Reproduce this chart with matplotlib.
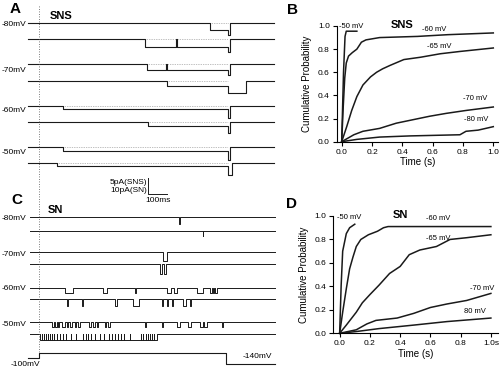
import numpy as np
import matplotlib
matplotlib.use('Agg')
import matplotlib.pyplot as plt

plt.rcParams['font.family'] = ['Liberation Sans', 'DejaVu Sans']

# ---------------- data ----------------
# A: SNS single channel records (times in ms from step onset, currents in pA, inward = positive amp)
a_volt_labels = ['-80mV', '-70mV', '-60mV', '-50mV']
a_open_t = [905, 561, 571, 677, 127, 577, 127, 95]
a_open_pA = [2.2, 2.3, 1.9, 1.65, 0.95, 1.35, 1.25, 0.85]
a_tail_pA = [3.7, 4.0, 3.4, 3.8, 3.75, 3.5, 4.2, 3.65]
a_tail_ms = [10, 8, 8, 95, 8, 8, 8, 20]
a_closures = [[], [725], [672], [], [], [], [], []]

# C: SN single channel records, openings (start ms, end ms)
c_volt_labels = ['-80mV', '-70mV', '-60mV', '-50mV']
c_amp_pA = [4.4, 3.1, 5.6, 6.2, 3.6, 4.8, 3.1, 3.7]
c_openings = [
    [(739, 744)],
    [(866, 870)],
    [(656, 675)],
    [(640, 650), (660, 672)],
    [(138, 180), (339, 360), (508, 513), (677, 700), (712, 730), (836, 868),
     (905, 915), (920, 928), (932, 942)],
    [(148, 153), (227, 232), (402, 413), (497, 529), (651, 656), (677, 682),
     (704, 709), (762, 778), (799, 804)],
    [(69, 77), (85, 93), (101, 108), (122, 138), (148, 156), (164, 175), (190, 198),
     (206, 217), (265, 275), (286, 296), (307, 312), (349, 357), (365, 376),
     (561, 566), (651, 656), (730, 746), (788, 804), (852, 868), (873, 889), (968, 973)],
    [],
]
c8_burst = (5, 624)
c8_closures = [16, 26, 37, 48, 58, 69, 79, 95, 111, 127, 143, 169, 196, 233, 249, 259,
               275, 296, 323, 344, 370, 386, 402, 418, 434, 450, 481, 540, 550, 566,
               577, 587, 598, 608]
cmd_t = [-58, 0, 989, 1249]
cmd_mv = [-100, -65, -140, -140]

# B: SNS cumulative first latency
b_curves = {
    '-50 mV': ([0, 0.012, 0.022, 0.03, 0.1], [0, 0.6, 0.91, 0.955, 0.955]),
    '-60 mV': ([0, 0.01, 0.02, 0.03, 0.045, 0.07, 0.1, 0.13, 0.16, 0.25, 0.5, 0.7, 1.0],
               [0, 0.3, 0.55, 0.68, 0.74, 0.77, 0.8, 0.86, 0.88, 0.9, 0.91, 0.925, 0.94]),
    '-65 mV': ([0, 0.033, 0.066, 0.1, 0.14, 0.19, 0.23, 0.27, 0.32, 0.41, 0.52, 0.65, 0.78, 1.0],
               [0, 0.13, 0.27, 0.39, 0.49, 0.56, 0.6, 0.63, 0.66, 0.71, 0.73, 0.76, 0.78, 0.81]),
    '-70 mV': ([0, 0.08, 0.14, 0.25, 0.36, 0.47, 0.58, 0.69, 0.82, 1.0],
               [0, 0.06, 0.09, 0.115, 0.16, 0.19, 0.22, 0.245, 0.27, 0.3]),
    '-80 mV': ([0, 0.1, 0.25, 0.45, 0.78, 0.82, 0.9, 1.0],
               [0, 0.02, 0.04, 0.05, 0.06, 0.09, 0.1, 0.13]),
}
b_label_pos = {'-50 mV': (-0.02, 1.0), '-60 mV': (0.53, 0.97), '-65 mV': (0.56, 0.82),
               '-70 mV': (0.8, 0.37), '-80 mV': (0.81, 0.19)}

# D: SN cumulative first latency
d_curves = {
    '-50 mV': ([0, 0.01, 0.02, 0.044, 0.066, 0.1], [0, 0.41, 0.7, 0.85, 0.9, 0.93]),
    '-60 mV': ([0, 0.02, 0.044, 0.066, 0.088, 0.11, 0.14, 0.19, 0.25, 0.29, 0.32, 1.0],
               [0, 0.18, 0.38, 0.55, 0.65, 0.74, 0.8, 0.84, 0.87, 0.9, 0.91, 0.91]),
    '-65 mV': ([0, 0.044, 0.11, 0.15, 0.2, 0.26, 0.33, 0.4, 0.46, 0.53, 0.64, 0.73, 0.84, 1.0],
               [0, 0.07, 0.18, 0.26, 0.33, 0.41, 0.51, 0.57, 0.67, 0.71, 0.74, 0.8, 0.815, 0.84]),
    '-70 mV': ([0, 0.11, 0.18, 0.24, 0.38, 0.49, 0.6, 0.71, 0.84, 1.0],
               [0, 0.03, 0.08, 0.11, 0.13, 0.17, 0.22, 0.25, 0.28, 0.34]),
    '80 mV': ([0, 0.11, 0.26, 0.49, 0.71, 1.0], [0, 0.015, 0.04, 0.07, 0.1, 0.13]),
}
d_label_pos = {'-50 mV': (-0.02, 0.99), '-60 mV': (0.57, 0.98), '-65 mV': (0.57, 0.81),
               '-70 mV': (0.86, 0.38), '80 mV': (0.82, 0.185)}

ticks = [0.0, 0.2, 0.4, 0.6, 0.8, 1.0]
b_xticklabels = ['0.0', '0.2', '0.4', '0.6', '0.8', '1.0']
d_xticklabels = ['0.0', '0.2', '0.4', '0.6', '0.8', '1.0s']
yticklabels = ['0.0', '0.2', '0.4', '0.6', '0.8', '1.0']

# ---------------- layout ----------------
PX_PER_MS = 0.189
X0 = 39.0
a_base = [23.3, 39.3, 64, 80.7, 106, 121.7, 146.7, 163.3]
a_lab_y = [25, 70, 110, 152]
c_base = [217.3, 230.7, 251.7, 264.3, 287.5, 298.5, 321.7, 334]
c_lab_y = [219, 255, 288, 324]
SNS_SCALE = 3.2   # px per pA
SN_SCALE = 1.6


def px2ms(x):
    return (x - X0) / PX_PER_MS


def build(t0, t1, segs):
    xs, ys = [t0], [0.0]
    for i, (a, b, amp) in enumerate(segs):
        if i > 0 and abs(segs[i - 1][1] - a) < 1e-9:
            xs.append(a); ys.append(-amp)
        else:
            xs += [a, a]; ys += [0.0, -amp]
        xs.append(b); ys.append(-amp)
        if i == len(segs) - 1 or abs(segs[i + 1][0] - b) > 1e-9:
            xs.append(b); ys.append(0.0)
    xs.append(t1); ys.append(0.0)
    return np.array(xs), np.array(ys)


fig = plt.figure(figsize=(5, 3.7), dpi=100)
ax = fig.add_axes([0, 0, 280 / 500, 1])
ax.set_xlim(px2ms(0), px2ms(280))
ax.set_ylim(370, 0)
ax.axis('off')

lc = '#1a1a1a'
# A traces
for i in range(8):
    segs = []
    t = a_open_t[i]
    for c in a_closures[i]:
        segs.append((t, c, a_open_pA[i]))
        t = c + 3
    segs.append((t, 1000, a_open_pA[i]))
    segs.append((1000, 1000 + a_tail_ms[i], a_tail_pA[i]))
    xs, ys = build(px2ms(28), px2ms(274), segs)
    ax.plot([a_open_t[i], 1000], [a_base[i]] * 2, ls=(0, (1, 1.5)), color='0.5', lw=0.5)
    ax.plot(xs, a_base[i] - ys * SNS_SCALE, color=lc, lw=0.8)

for lab, y in zip(a_volt_labels, a_lab_y):
    ax.text(px2ms(2), y, lab, fontsize=6, va='center', ha='left')

# C traces
for i in range(8):
    if i == 7:
        segs = []
        t = c8_burst[0]
        for c in c8_closures:
            segs.append((t, c, c_amp_pA[i]))
            t = c + 2
        segs.append((t, c8_burst[1], c_amp_pA[i]))
    else:
        segs = [(a, b, c_amp_pA[i]) for a, b in c_openings[i]]
    xs, ys = build(px2ms(30), px2ms(275), segs)
    ax.plot(xs, c_base[i] - ys * SN_SCALE, color=lc, lw=0.7)

for lab, y in zip(c_volt_labels, c_lab_y):
    ax.text(px2ms(2), y, lab, fontsize=6, va='center', ha='left')

# command voltage
cmd_y = 358.3 - (np.array(cmd_mv) + 100) * 0.143
ax.plot(cmd_t, cmd_y, drawstyle='steps-post', color=lc, lw=0.8)
ax.text(px2ms(11), 364, '-100mV', fontsize=6, va='center', ha='left')
ax.text(px2ms(243), 357, '-140mV', fontsize=6, va='center', ha='left')

# step onset marker
ax.plot([0, 0], [6, 352], ls=(0, (1, 2)), color='0.3', lw=0.6)

# scale bar
ax.plot([px2ms(148), px2ms(148), px2ms(167)], [178, 194, 194], color=lc, lw=0.7)
ax.text(px2ms(147), 182, '5pA(SNS)', fontsize=6, ha='right', va='center')
ax.text(px2ms(147), 190, '10pA(SN)', fontsize=6, ha='right', va='center')
ax.text(px2ms(158), 201, '100ms', fontsize=6, ha='center', va='center')

ax.text(px2ms(10), 9, 'A', fontsize=11, fontweight='bold', va='center')
ax.text(px2ms(50), 16, 'SNS', fontsize=8, fontweight='bold', va='center')
ax.text(px2ms(11), 200, 'C', fontsize=11, fontweight='bold', va='center')
ax.text(px2ms(48), 210, 'SN', fontsize=8, fontweight='bold', va='center')


def cum_panel(rect, xlim, curves, lab_pos, title, xticklabels):
    axc = fig.add_axes(rect)
    for name, (t, p) in curves.items():
        axc.plot(t, p, color=lc, lw=1.1, clip_on=False)
        tx, ty = lab_pos[name]
        axc.text(tx, ty, name, fontsize=5.5, va='center', ha='left')
    axc.text(0.4, 1.01, title, fontsize=8, fontweight='bold', ha='center', va='center')
    axc.set_xlim(*xlim)
    axc.set_ylim(0, 1.0)
    axc.set_xticks(ticks)
    axc.set_xticklabels(xticklabels)
    axc.set_yticks(ticks)
    axc.set_yticklabels(yticklabels)
    for s in ['top', 'right']:
        axc.spines[s].set_visible(False)
    for s in ['left', 'bottom']:
        axc.spines[s].set_linewidth(0.8)
    axc.tick_params(labelsize=6, length=3, width=0.8, pad=2)
    axc.set_xlabel('Time (s)', fontsize=7, labelpad=1)
    axc.set_ylabel('Cumulative Probability', fontsize=7, labelpad=4)
    axc.patch.set_alpha(0)
    return axc


cum_panel([336.7 / 500, (370 - 141.7) / 370, 161.6 / 500, 115.7 / 370],
          (-0.033, 1.033), b_curves, b_label_pos, 'SNS', b_xticklabels)
cum_panel([333 / 500, (370 - 333.3) / 370, 165 / 500, 117.3 / 370],
          (-0.044, 1.047), d_curves, d_label_pos, 'SN', d_xticklabels)

fig.text(287 / 500, 1 - 10 / 370, 'B', fontsize=11, fontweight='bold', va='center')
fig.text(286 / 500, 1 - 204 / 370, 'D', fontsize=11, fontweight='bold', va='center')

fig.savefig('out.png', dpi=100)
